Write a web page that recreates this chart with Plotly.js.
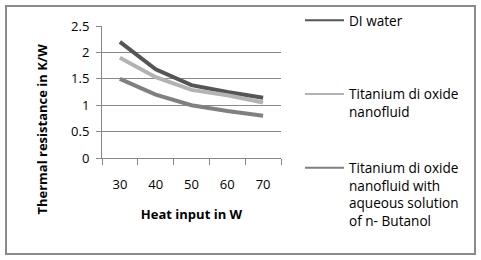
<!DOCTYPE html>
<html>
<head>
<meta charset="utf-8">
<script src="https://cdn.plot.ly/plotly-3.0.1.min.js"></script>
<style>
html,body{margin:0;padding:0;background:#fff;}
#wrap{position:relative;width:481px;height:260px;}
#chart{position:absolute;left:0;top:0;width:481px;height:260px;}
#frame{position:absolute;left:5px;top:5px;width:471px;height:250px;box-sizing:border-box;border:2px solid #8a8a8a;pointer-events:none;}
</style>
</head>
<body>
<div id="wrap"><div id="chart"></div><div id="frame"></div></div>
<script>
const categories = ["30", "40", "50", "60", "70"];
const seriesNames = [
  "DI water",
  "Titanium di oxide<br>nanofluid",
  "Titanium di oxide<br>nanofluid with<br>aqueous solution<br>of n- Butanol"
];
const diWater = [2.2, 1.68, 1.38, 1.25, 1.14];
const tio2Nanofluid = [1.9, 1.53, 1.29, 1.19, 1.05];
const tio2Butanol = [1.5, 1.2, 1.0, 0.89, 0.8];
const yTicks = [0, 0.5, 1, 1.5, 2, 2.5];
const yTickLabels = ["0", "0.5", "1", "1.5", "2", "2.5"];

const FONT = "Open Sans, Noto Sans, sans-serif";
const pad = ["<br> <br> <br> ", "<br> <br> ", ""];
const colors = ["#555555", "#b3b3b3", "#808080"];
const values = [diWater, tio2Nanofluid, tio2Butanol];

// plotted lines (thick), legend hidden
const traces = values.map((v, i) => ({
  type: "scatter",
  mode: "lines",
  x: categories,
  y: v,
  name: seriesNames[i],
  legendgroup: "g" + i,
  showlegend: false,
  line: {color: colors[i], width: 4}
}));
// legend entries (thin key lines, same series)
values.forEach((v, i) => {
  traces.push({
    type: "scatter",
    mode: "lines",
    x: categories,
    y: v,
    name: seriesNames[i] + pad[i],
    legendgroup: "g" + i,
    showlegend: true,
    visible: true,
    line: {color: colors[i], width: 2},
    opacity: 1,
    hoverinfo: "skip",
    xaxis: "x", yaxis: "y2"
  });
});

const layout = {
  width: 481, height: 260,
  margin: {l: 102, r: 200, t: 26, b: 102, pad: 0},
  paper_bgcolor: "#fff", plot_bgcolor: "#fff",
  font: {family: FONT, size: 13, color: "#000"},
  showlegend: true,
  legend: {
    xref: "container", yref: "container",
    x: 300/481, y: 1 - 5/260, xanchor: "left", yanchor: "top",
    maxheight: 252,
    itemwidth: 39,
    font: {family: FONT, size: 13.6, color: "#000"},
    valign: "top", tracegroupgap: 0, bgcolor: "rgba(0,0,0,0)"
  },
  xaxis: {
    type: "category",
    range: [-0.5, 4.5],
    showgrid: false, zeroline: false,
    showline: true, linecolor: "#888", linewidth: 1,
    ticks: "outside", tickson: "boundaries", ticklen: 6, tickcolor: "#888",
    ticklabelstandoff: 14,
    tickfont: {family: FONT, size: 13, color: "#000"},
    title: {text: "<b>Heat input in W</b>", font: {family: FONT, size: 13, color: "#000"}, standoff: 18},
    fixedrange: true
  },
  yaxis: {
    range: [0, 2.5],
    tickvals: yTicks, ticktext: yTickLabels,
    showgrid: true, gridcolor: "#888", gridwidth: 1,
    zeroline: false,
    showline: true, linecolor: "#888", linewidth: 1,
    ticks: "outside", ticklen: 5, tickcolor: "#888",
    ticklabelstandoff: 4,
    tickfont: {family: FONT, size: 13, color: "#000"},
    fixedrange: true
  },
  // hidden axis far outside visible range so legend-key traces draw nothing in the plot
  yaxis2: {
    overlaying: "y", range: [100, 101], visible: false, fixedrange: true
  },
  annotations: [{
    xref: "paper", yref: "container",
    x: -0.335, y: 1 - 120/260,
    xanchor: "center", yanchor: "middle",
    text: "<b>Thermal resistance in K/W</b>",
    textangle: -90, showarrow: false,
    font: {family: FONT, size: 13, color: "#000"}
  }]
};

Plotly.newPlot("chart", traces, layout, {displayModeBar: false, staticPlot: true});
</script>
</body>
</html>
